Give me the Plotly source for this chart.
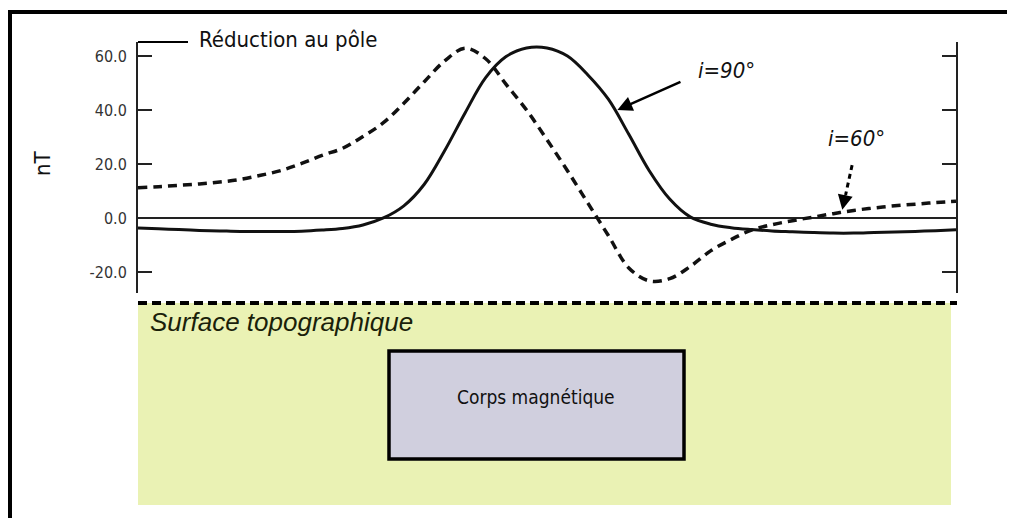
import plotly.graph_objects as go

# profil (distance 0-100) et anomalies magnétiques en nT
x_profil = [0, 2.5, 5, 7.5, 10, 12.5, 15, 17.5, 20, 22.5, 25, 27.5, 30, 32.5, 35,
            37.5, 40, 42.5, 45, 47.5, 50, 52.5, 55, 57.5, 60, 62.5, 65, 67.5, 70,
            72.5, 75, 77.5, 80, 82.5, 85, 87.5, 90, 92.5, 95, 97.5, 100]
y_i90 = [-3.7, -4.0, -4.3, -4.6, -4.8, -5.0, -5.0, -5.0, -4.9, -4.5, -3.9, -2.6,
         0.0, 4.5, 12.5, 25.0, 39.0, 52.0, 59.8, 63.0, 63.0, 60.0, 53.0, 44.0, 31.0,
         17.5, 7.0, 0.4, -2.3, -3.6, -4.3, -4.8, -5.1, -5.4, -5.6, -5.6, -5.4, -5.2,
         -5.0, -4.7, -4.4]
y_i60 = [11.2, 11.6, 12.1, 12.6, 13.3, 14.3, 15.8, 17.6, 20.2, 23.2, 25.8, 30.2,
         35.3, 42.5, 50.5, 58.2, 62.9, 59.0, 49.5, 40.0, 29.0, 17.5, 5.5, -6.5, -18.5,
         -23.3, -22.5, -18.0, -12.2, -8.0, -4.5, -2.5, -1.0, 0.3, 1.6, 2.8, 3.7, 4.5,
         5.1, 5.7, 6.2]

y_ticks = [-20, 0, 20, 40, 60]
y_ticktext = ["-20.0", "0.0", "20.0", "40.0", "60.0"]

OFF = 8  # marge du body de la page
W, H = 1015 - OFF, 518 - OFF
FONT = "DejaVu Sans Condensed, Liberation Sans Narrow, Liberation Sans, sans-serif"
FONT_ITAL = "Liberation Sans, Arial, sans-serif"


def px(x):
    return (x - OFF) / W


def py(y):
    return 1 - (y - OFF) / H


fig = go.Figure()
fig.add_trace(go.Scatter(x=x_profil, y=y_i60, mode="lines", line_shape="spline",
                         line=dict(color="#111", width=3.5, dash="9px,6px"),
                         name="i=60°"))
fig.add_trace(go.Scatter(x=x_profil, y=y_i90, mode="lines", line_shape="spline",
                         line=dict(color="#111", width=3), name="i=90°"))

shapes = [
    # cadre
    dict(type="rect", xref="paper", yref="paper", x0=px(10), x1=px(1030),
         y0=py(540), y1=py(12), line=dict(color="black", width=4)),
    # terrain
    dict(type="rect", xref="paper", yref="paper", x0=px(138), x1=px(951),
         y0=py(505), y1=py(303), fillcolor="#EAF2B4", line=dict(width=0),
         layer="below"),
    dict(type="line", xref="paper", yref="paper", x0=px(138), x1=px(957),
         y0=py(303), y1=py(303), line=dict(color="black", width=4, dash="9px,5px")),
    # corps magnétique
    dict(type="rect", xref="paper", yref="paper", x0=px(389), x1=px(684),
         y0=py(459), y1=py(351), fillcolor="#D0CFDE",
         line=dict(color="black", width=3.5)),
    # trait du titre
    dict(type="line", xref="paper", yref="paper", x0=px(138), x1=px(188),
         y0=py(42), y1=py(42), line=dict(color="black", width=2)),
    # flèche pointillée i=60°
    dict(type="line", xref="x", yref="y", x0=87.3, y0=19.6, x1=86.5, y1=8.5,
         line=dict(color="black", width=3, dash="5px,4px")),
]

annotations = [
    dict(text="Réduction au pôle", xref="paper", yref="paper", x=px(197), y=py(39),
         xanchor="left", yanchor="middle", showarrow=False,
         font=dict(family=FONT, size=22, color="#111")),
    dict(text="nT", xref="paper", yref="paper", x=px(42), y=py(163), textangle=-90,
         xanchor="center", yanchor="middle", showarrow=False,
         font=dict(family=FONT, size=22, color="#111")),
    dict(text="<i>i=90°</i>", x=71.9, y=54.8, showarrow=False,
         font=dict(family=FONT, size=22, color="#111")),
    dict(text="", x=58.6, y=40.0, ax=66.5, ay=50.7, axref="x", ayref="y",
         showarrow=True, arrowhead=2, arrowsize=1.2, arrowwidth=2.5, arrowcolor="black"),
    dict(text="<i>i=60°</i>", x=87.8, y=29.6, showarrow=False,
         font=dict(family=FONT, size=22, color="#111")),
    dict(text="", x=86.1, y=3.0, ax=86.5, ay=9.0, axref="x", ayref="y",
         showarrow=True, arrowhead=2, arrowsize=1.2, arrowwidth=2.5, arrowcolor="black"),
    dict(text="<i>Surface topographique</i>", xref="paper", yref="paper",
         x=px(148), y=py(322), xanchor="left", yanchor="middle", showarrow=False,
         font=dict(family=FONT_ITAL, size=26, color="#1a1f0a")),
    dict(text="Corps magnétique", xref="paper", yref="paper", x=px(536), y=py(410),
         xanchor="center", showarrow=False,
         font=dict(family=FONT, size=19, color="#111")),
]

fig.update_layout(
    width=W, height=H, margin=dict(l=0, r=0, t=0, b=0),
    paper_bgcolor="white", plot_bgcolor="rgba(0,0,0,0)", showlegend=False,
    shapes=shapes, annotations=annotations,
    xaxis=dict(domain=[px(138), px(956)], range=[0, 100], visible=False),
    yaxis=dict(domain=[py(293), py(42)], range=[-27.8, 65.2],
               tickvals=y_ticks, ticktext=y_ticktext, ticks="inside", ticklen=14,
               tickwidth=2, tickcolor="#222", showline=True, linecolor="#222",
               linewidth=2, mirror="ticks", showgrid=False,
               zeroline=True, zerolinecolor="#222", zerolinewidth=1.5,
               ticklabelstandoff=6,
               tickfont=dict(family=FONT, size=16, color="#333")),
)

fig.write_html("out.html")
